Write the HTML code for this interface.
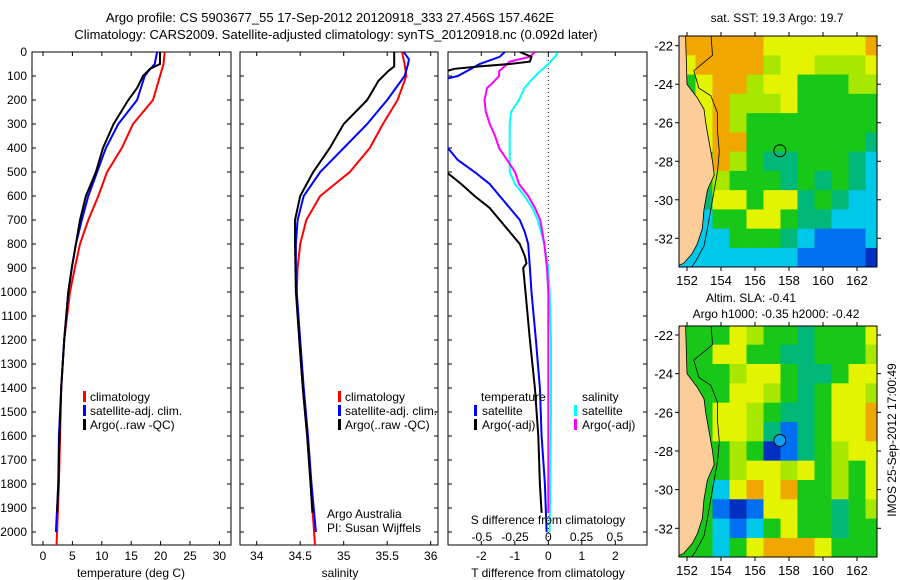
<!DOCTYPE html>
<html><head><meta charset="utf-8"><style>
body{margin:0;background:#fff;}
svg{display:block;font-family:"Liberation Sans",sans-serif;}
</style></head><body>
<svg id="fig" width="900" height="580" viewBox="0 0 900 580" xmlns="http://www.w3.org/2000/svg">
<text x="330" y="22" font-size="13" text-anchor="middle">Argo profile: CS 5903677_55 17-Sep-2012 20120918_333 27.456S 157.462E</text>
<text x="336" y="39" font-size="13" text-anchor="middle">Climatology: CARS2009. Satellite-adjusted climatology: synTS_20120918.nc (0.092d later)</text>
<g id="plots"></g>
</svg>
<script>
// depths (dbar)
const depthsT = [0,50,100,200,300,400,500,600,700,800,900,1000,1200,1400,1600,1800,2000,2055];
const tempClim = [20.7,20.5,19.9,18.7,15.3,13.4,10.9,9.4,7.7,6.3,5.4,4.6,3.6,3.1,2.9,2.7,2.4,2.3];
const depthsTsat = [0,50,80,100,200,300,400,500,600,700,800,900,1000,1200,1400,1600,1800,2000];
const tempSat = [19.4,19,17.9,17.3,16,12.8,10.7,9.2,7.7,6.6,5.6,4.9,4.3,3.6,3.1,2.7,2.6,2.2];
const depthsArgo = [0,50,70,100,150,200,300,400,500,600,700,800,900,1000,1200,1400,1600,1800,1920];
const tempArgo = [19.9,19.9,18.2,17,16,14.5,12,10.2,9,7.3,6.3,5.6,4.9,4.3,3.6,3.1,2.8,2.6,2.4];
const salClim = [35.67,35.70,35.72,35.62,35.45,35.30,35.07,34.73,34.57,34.50,34.47,34.46,34.49,34.53,34.58,34.62,34.66,34.67];
const depthsSsat = [0,30,50,100,200,300,400,500,600,700,800,900,1000,1200,1400,1600,1800,2000];
const salSat = [35.69,35.75,35.74,35.70,35.50,35.27,35.00,34.73,34.54,34.47,34.45,34.45,34.46,34.50,34.54,34.59,34.63,34.68];
const depthsSargo = [0,60,80,120,200,300,400,500,600,700,800,1000,1200,1400,1600,1800,1920];
const salArgo = [35.58,35.58,35.51,35.40,35.27,35.00,34.84,34.65,34.50,34.44,34.44,34.45,34.49,34.53,34.58,34.62,34.64];
// differences
const depthsDTsat = [0,20,50,70,100,110,150,300,400,450,500,550,600,650,700,750,800,900,1000,1200,1400,1600,1800,2000];
const dTsat = [-1.3,-1.45,-2.05,-2.3,-2.7,-3.0,-3.3,-3.5,-3.0,-2.7,-2.2,-1.75,-1.45,-1.15,-0.85,-0.7,-0.6,-0.55,-0.5,-0.37,-0.25,-0.2,-0.1,-0.05];
const depthsDTargo = [0,20,40,50,60,70,80,300,505,550,600,650,700,750,800,850,880,900,1000,1200,1400,1600,1800,1920];
const dTargo = [-0.85,-0.5,-0.55,-1.15,-2.05,-2.8,-3.05,-3.5,-3.0,-2.6,-2.2,-1.75,-1.45,-1.15,-0.85,-0.7,-0.65,-0.75,-0.68,-0.55,-0.4,-0.3,-0.25,-0.2];
const depthsDS = [0,10,50,100,150,200,250,300,400,500,550,600,650,700,800,900,1000,1200,1500,2000];
const dSsat = [0.05,0.066,0,-0.1,-0.18,-0.22,-0.28,-0.29,-0.29,-0.29,-0.25,-0.18,-0.12,-0.08,-0.03,0,0.01,0.02,0.02,0.01];
const depthsDSargo = [0,20,40,60,80,100,130,150,200,250,300,350,400,450,500,550,600,650,700,800,900,1000,1500,1920];
const dSargo = [-0.1,-0.14,-0.29,-0.33,-0.37,-0.37,-0.42,-0.46,-0.48,-0.47,-0.44,-0.4,-0.37,-0.31,-0.25,-0.22,-0.15,-0.1,-0.06,-0.03,-0.01,0,0,0];
const depthTicks = [0,100,200,300,400,500,600,700,800,900,1000,1100,1200,1300,1400,1500,1600,1700,1800,1900,2000];
const tempTicks = [0,5,10,15,20,25,30];
const salTicks = [34,34.5,35,35.5,36];
const dTTicks = [-2,-1,0,1,2];
const dSTicks = [-0.5,-0.25,0,0.25,0.5];
const dSTickLabels = ["-0.5","-0.25","0","0.25","0.5"];
// maps: rows lat -22..-33, cols lon 152..163
const sstGrid = ["oooooyyyyyyo","yoooolyyllly","Lyoolyygggll","Lyolllyggggg","Lyolgggggggg","Lyoogggggggt","Lgolgttgggtc","Lglgggtgtgtc","Ltyygyytgtcc","Lcggyygttccc","Lccgggtcbbbc","cccccccbbbbd"];
const slaGrid = ["gggylggtgggy","ggyyggttgggl","Lgglyygttgyy","Lggyylgtgyyl","Lgyylgttgyyo","Lgyyltbtgyyo","Lgglgdbtglyy","Lgglyylyglgy","Lgcyoyogglgy","Lgbdbyyggtgl","Lgcbcgyggtgg","Lgcgyoooyggg"];
const lonTicks = [152,154,156,158,160,162];
const latTicks = [-22,-24,-26,-28,-30,-32];

const NS="http://www.w3.org/2000/svg";
const root=document.getElementById('plots');
function mk(tag,attrs,parent){const e=document.createElementNS(NS,tag);for(const k in attrs)e.setAttribute(k,attrs[k]);(parent||root).appendChild(e);return e;}
function txt(x,y,s,anchor,size,parent){const t=mk('text',{x:x,y:y,'font-size':size||12,'text-anchor':anchor||'start'},parent);t.textContent=s;return t;}
const yD=d=>52+d*0.24;
const Y0=52,Y1=545;

function line(xs,ds,fx,color,name,w){
  const pts=xs.map((v,i)=>fx(v).toFixed(1)+','+yD(ds[i]).toFixed(1)).join(' ');
  const p=mk('polyline',{points:pts,fill:'none',stroke:color,'stroke-width':w||2,'clip-path':'url(#'+curClip+')'});
  
  
}
let curClip='';
function panel(x0,x1,name){
  curClip='clip-'+name;
  const cp=mk('clipPath',{id:curClip});mk('rect',{x:x0,y:Y0,width:x1-x0,height:Y1-Y0},cp);
  const r=mk('rect',{x:x0,y:Y0,width:x1-x0,height:Y1-Y0,fill:'none',stroke:'#000','stroke-width':1});
  
  
  depthTicks.forEach(d=>{mk('line',{x1:x0,x2:x0+4,y1:yD(d),y2:yD(d),stroke:'#000'});mk('line',{x1:x1-4,x2:x1,y1:yD(d),y2:yD(d),stroke:'#000'});});
}
function xticks(ticks,fx,labels,ylab,top){
  ticks.forEach((t,i)=>{const x=fx(t);mk('line',{x1:x,x2:x,y1:Y1-4,y2:Y1,stroke:'#000'});if(top!==false)mk('line',{x1:x,x2:x,y1:Y0,y2:Y0+4,stroke:'#000'});
    const l=txt(x,ylab,labels?labels[i]:String(t),'middle',12);});
}
function legendBar(x,y,color){mk('rect',{x:x,y:y-10,width:3,height:11,fill:color});}

// Panel 1: temperature
const fT=t=>43+t*5.88;
panel(32,231,'temperature-panel');
depthTicks.forEach(d=>{const l=txt(27,yD(d)+4,String(d),'end',12);});
xticks(tempTicks,fT,null,560);
line(tempClim,depthsT,fT,'#f00','temp-climatology-line');
line(tempSat,depthsTsat,fT,'#00f','temp-satellite-line');
line(tempArgo,depthsArgo,fT,'#000','temp-argo-line');
txt(131,577,'temperature (deg C)','middle',12);
[['#f00','climatology'],['#00f','satellite-adj. clim.'],['#000','Argo(..raw -QC)']].forEach((e,i)=>{legendBar(83,401+i*14,e[0]);const t=txt(90,401+i*14,e[1],'start',12);});

// Panel 2: salinity
const fS=s=>256.7+(s-34)*87;
panel(240,438,'salinity-panel');
xticks(salTicks,fS,null,560);
line(salClim,depthsT,fS,'#f00','sal-climatology-line');
line(salSat,depthsSsat,fS,'#00f','sal-satellite-line');
line(salArgo,depthsSargo,fS,'#000','sal-argo-line');
txt(340,577,'salinity','middle',12);
[['#f00','climatology'],['#00f','satellite-adj. clim.'],['#000','Argo(..raw -QC)']].forEach((e,i)=>{legendBar(338,401+i*14,e[0]);const t=txt(345,401+i*14,e[1],'start',12);});
txt(327,518,'Argo Australia','start',12);
txt(327,532,'PI: Susan Wijffels','start',12);

// Panel 3: differences
const fDT=v=>548.3+v*33.5;
const fDS=v=>548.3+v*133;
panel(448,647,'difference-panel');
mk('line',{x1:548.3,x2:548.3,y1:Y0,y2:Y1,stroke:'#000','stroke-dasharray':'1,3'});
xticks(dTTicks,fDT,null,560);
dSTicks.forEach((t,i)=>{const l=txt(fDS(t),541,dSTickLabels[i],'middle',12);});
line(dSsat,depthsDS,fDS,'#0ff','sdiff-satellite-line');
line(dSargo,depthsDSargo,fDS,'#f0f','sdiff-argo-line');
line(dTsat,depthsDTsat,fDT,'#00f','tdiff-satellite-line');
line(dTargo,depthsDTargo,fDT,'#000','tdiff-argo-line');
txt(548,524,'S difference from climatology','middle',12);
txt(548,577,'T difference from climatology','middle',12);
txt(481,401,'temperature','start',12);
[['#00f','satellite'],['#000','Argo(-adj)']].forEach((e,i)=>{legendBar(474,415+i*14,e[0]);txt(482,415+i*14,e[1],'start',12);});
txt(582,401,'salinity','start',12);
[['#0ff','satellite'],['#f0f','Argo(-adj)']].forEach((e,i)=>{legendBar(574,415+i*14,e[0]);txt(582,415+i*14,e[1],'start',12);});

// Maps
const colors={o:'#f0a800',y:'#e4f400',l:'#a8e800',g:'#18c818',t:'#00b878',c:'#00c8e8',b:'#0070f0',d:'#0030c0',L:'#fccc99'};
function map(yTop,yBot,latY22,latY32,grid,name,filledDot){
  const x0=679,x1=877,lonX=l=>687+(l-152)*17;
  const latY=l=>latY22+(l+22)*(latY32-latY22)/(-10);
  const cid='clip-'+name;const cp=mk('clipPath',{id:cid});mk('rect',{x:x0,y:yTop,width:x1-x0,height:yBot-yTop},cp);
  const g=mk('g',{'clip-path':'url(#'+cid+')'});
  
  
  grid.forEach((row,r)=>{for(let c=0;c<row.length;c++){const ch=row[c]==='L'?'g':row[c];
    const xa=lonX(151.5+c),ya=latY(-21.5-r);const cell=mk('rect',{x:xa,y:ya,width:17.5,height:(latY32-latY22)/10+0.5,fill:colors[ch]},g);
    }});
  const land=[[150,-21],[151.9,-21],[152.0,-24],[152.6,-24.7],[153.0,-25.3],[153.1,-26],[153.3,-27],[153.5,-28],[153.6,-28.7],[153.2,-29.5],[153.0,-30.5],[152.9,-31.5],[152.6,-32.3],[152.3,-32.8],[151.8,-33.3],[150,-34]];
  mk('polygon',{points:land.map(p=>lonX(p[0])+','+latY(p[1])).join(' '),fill:colors.L,stroke:'#000','stroke-width':0.8},g);
  const iso=[[153.4,-21.3],[153.5,-22.5],[152.4,-23.3],[152.7,-24.2],[153.4,-24.6],[153.8,-25.5],[153.8,-26.5],[153.9,-27.5],[153.8,-28.5],[153.6,-29.5],[153.4,-30.5],[153.2,-31.5],[153.0,-32.4],[152.5,-33.2],[152.2,-33.6]];
  mk('polyline',{points:iso.map(p=>lonX(p[0])+','+latY(p[1])).join(' '),fill:'none',stroke:'#000','stroke-width':0.8},g);
  const dot=mk('circle',{cx:lonX(157.462),cy:latY(-27.456),r:6,fill:filledDot?'#0ea0f0':'none',stroke:'#000','stroke-width':1});
  
  
  mk('rect',{x:x0,y:yTop,width:x1-x0,height:yBot-yTop,fill:'none',stroke:'#000'});
  lonTicks.forEach(l=>{const x=lonX(l);mk('line',{x1:x,x2:x,y1:yTop-4,y2:yTop,stroke:'#000'});mk('line',{x1:x,x2:x,y1:yBot,y2:yBot+4,stroke:'#000'});txt(x,yBot+18,String(l),'middle',13);});
  latTicks.forEach(l=>{const y=latY(l);mk('line',{x1:x0-4,x2:x0,y1:y,y2:y,stroke:'#000'});mk('line',{x1:x1,x2:x1+4,y1:y,y2:y,stroke:'#000'});txt(673,y+5,String(l),'end',13);});
}
map(36,267,45.7,238.3,sstGrid,'sst-map',false);
txt(777,22,'sat. SST: 19.3 Argo: 19.7','middle',12);
map(326,557,335,528.3,slaGrid,'sla-map',true);
txt(751,302,'Altim. SLA: -0.41','middle',12);
txt(776,318,'Argo h1000: -0.35 h2000: -0.42','middle',12);
const v=txt(0,0,'IMOS 25-Sep-2012 17:00:49','middle',12);
v.setAttribute('transform','translate(896,440) rotate(-90)');

</script>
</body></html>
